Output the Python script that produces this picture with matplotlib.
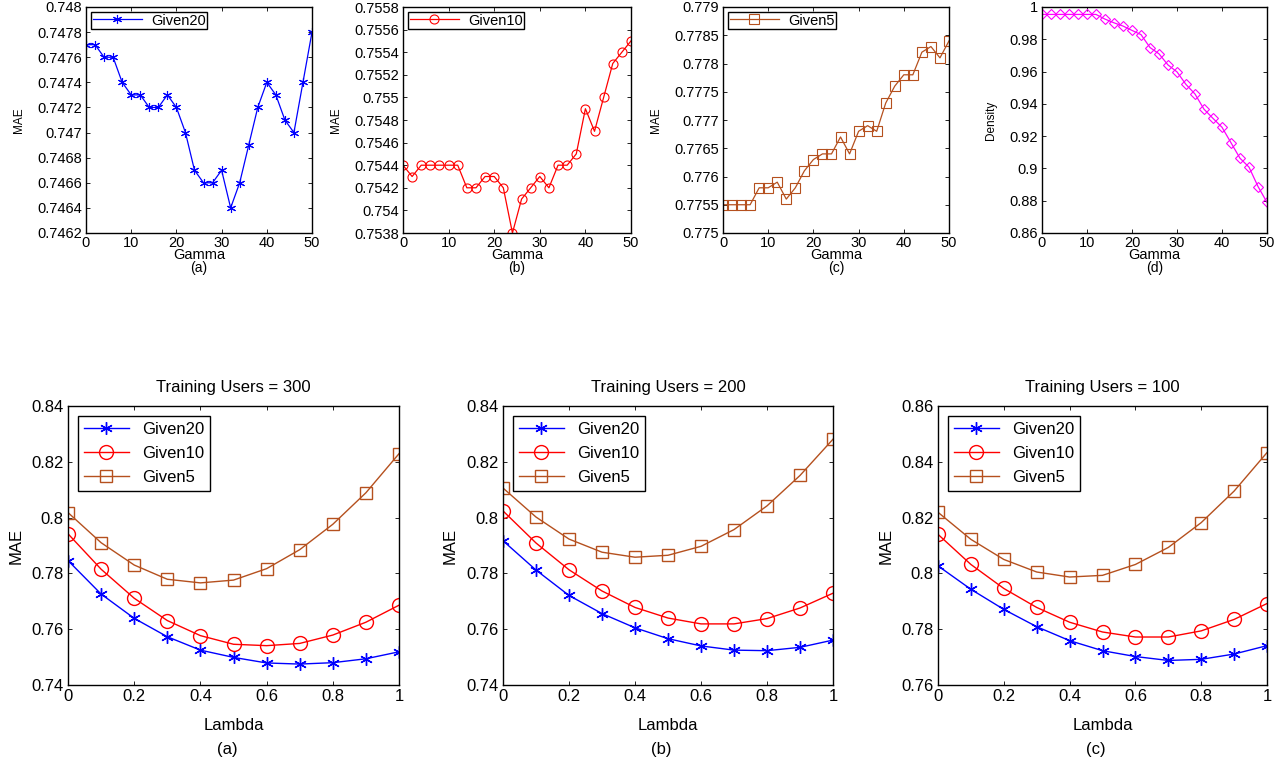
import numpy as np
import matplotlib
matplotlib.use("Agg")
import matplotlib.pyplot as plt

plt.rcParams['font.family'] = ['Liberation Sans', 'DejaVu Sans']

# top row: parameter Gamma
gamma = list(range(0, 51, 2))
given20_gamma = [0.7477, 0.7477, 0.7476, 0.7476, 0.7474, 0.7473, 0.7473, 0.7472, 0.7472,
                 0.7473, 0.7472, 0.7470, 0.7467, 0.7466, 0.7466, 0.7467, 0.7464, 0.7466,
                 0.7469, 0.7472, 0.7474, 0.7473, 0.7471, 0.7470, 0.7474, 0.7478]
given10_gamma = [0.7544, 0.7543, 0.7544, 0.7544, 0.7544, 0.7544, 0.7544, 0.7542, 0.7542,
                 0.7543, 0.7543, 0.7542, 0.7538, 0.7541, 0.7542, 0.7543, 0.7542, 0.7544,
                 0.7544, 0.7545, 0.7549, 0.7547, 0.7550, 0.7553, 0.7554, 0.7555]
given5_gamma = [0.7755, 0.7755, 0.7755, 0.7755, 0.7758, 0.7758, 0.7759, 0.7756, 0.7758,
                0.7761, 0.7763, 0.7764, 0.7764, 0.7767, 0.7764, 0.7768, 0.7769, 0.7768,
                0.7773, 0.7776, 0.7778, 0.7778, 0.7782, 0.7783, 0.7781, 0.7784]
density_gamma = [0.9954, 0.9954, 0.9954, 0.9954, 0.9954, 0.9954, 0.9954, 0.9925, 0.9902,
                 0.9882, 0.9855, 0.9829, 0.9749, 0.9710, 0.9641, 0.9598, 0.9520, 0.9461,
                 0.9367, 0.9310, 0.9255, 0.9159, 0.9063, 0.9008, 0.8888, 0.8790]

# bottom row: parameter Lambda
lam = [0, 0.1, 0.2, 0.3, 0.4, 0.5, 0.6, 0.7, 0.8, 0.9, 1.0]
users = [300, 200, 100]
g20_lam = [
    [0.7846, 0.7726, 0.7639, 0.7573, 0.7525, 0.7499, 0.7479, 0.7475, 0.7480, 0.7494, 0.7519],
    [0.7917, 0.7812, 0.7721, 0.7656, 0.7605, 0.7566, 0.7540, 0.7525, 0.7523, 0.7535, 0.7561],
    [0.8027, 0.7943, 0.7871, 0.7809, 0.7759, 0.7723, 0.7702, 0.7688, 0.7692, 0.7711, 0.7741],
]
g10_lam = [
    [0.7942, 0.7815, 0.7711, 0.7631, 0.7577, 0.7546, 0.7541, 0.7549, 0.7579, 0.7625, 0.7686],
    [0.8024, 0.7909, 0.7813, 0.7737, 0.7678, 0.7640, 0.7619, 0.7619, 0.7638, 0.7676, 0.7729],
    [0.8140, 0.8032, 0.7946, 0.7878, 0.7825, 0.7790, 0.7772, 0.7772, 0.7794, 0.7835, 0.7892],
]
g5_lam = [
    [0.8018, 0.7910, 0.7830, 0.7779, 0.7766, 0.7776, 0.7817, 0.7885, 0.7976, 0.8089, 0.8229],
    [0.8106, 0.8002, 0.7923, 0.7876, 0.7858, 0.7865, 0.7897, 0.7957, 0.8042, 0.8151, 0.8281],
    [0.8219, 0.8122, 0.8050, 0.8005, 0.7987, 0.7993, 0.8032, 0.8093, 0.8182, 0.8295, 0.8433],
]
panel_tags = ['(a)', '(b)', '(c)', '(d)']

BLUE = '#0000ff'
RED = '#ff0000'
BROWN = '#b5501e'
MAGENTA = '#ff00ff'
ASTER = (6, 2, 0)

W, H = 1284, 761
fig = plt.figure(figsize=(W / 100, H / 100), dpi=100)


def box(l, r, t, b):
    return [l / W, 1 - b / H, (r - l) / W, (b - t) / H]


def style(ax, size):
    ax.tick_params(direction='in', top=True, right=True, labelsize=size,
                   length=3, width=0.6, pad=3)
    for s in ax.spines.values():
        s.set_linewidth(1.0)


# ---- top row ----
top_boxes = [(86, 312), (403, 631), (723, 949), (1042, 1267)]
top_series = [
    (given20_gamma, 'Given20', BLUE, ASTER, (0.7462, 0.748), 0.0002, 'MAE'),
    (given10_gamma, 'Given10', RED, 'o', (0.7538, 0.7558), 0.0002, 'MAE'),
    (given5_gamma, 'Given5', BROWN, 's', (0.775, 0.779), 0.0005, 'MAE'),
    (density_gamma, None, MAGENTA, 'D', (0.86, 1.0), 0.02, 'Density'),
]
for i, ((l, r), (vals, name, col, mk, ylim, step, ylab)) in enumerate(zip(top_boxes, top_series)):
    ax = fig.add_axes(box(l, r, 7, 233))
    ax.plot(gamma, vals, color=col, marker=mk, markersize=6.5 if mk != 'D' else 5.5,
            markerfacecolor='none', markeredgecolor=col, linewidth=0.9,
            markeredgewidth=0.8, label=name)
    ax.set_xlim(0, 50)
    ax.set_ylim(*ylim)
    ax.set_xticks(range(0, 51, 10))
    yt = np.round(np.arange(ylim[0], ylim[1] + step / 2, step), 5)
    ax.set_yticks(yt)
    ax.set_yticklabels(['%g' % v for v in yt])
    style(ax, 10.5)
    ax.tick_params(axis='x', pad=2)
    ax.set_xlabel('Gamma', fontsize=10.5, labelpad=-1)
    ax.text(0.5, -0.125, panel_tags[i], transform=ax.transAxes, ha='center',
            va='top', fontsize=10)
    ax.set_ylabel(ylab, fontsize=8.5, fontstretch='condensed', labelpad=9)
    if name:
        ax.legend(loc='upper left', fontsize=10.5, frameon=True, fancybox=False,
                  edgecolor='black', borderpad=0.1, handlelength=3.4,
                  handletextpad=0.6, borderaxespad=0.35, framealpha=1)

# ---- bottom row ----
bot_boxes = [(68, 399), (503, 833), (938, 1267)]
bot_ylims = [(0.74, 0.84), (0.74, 0.84), (0.76, 0.86)]
for i, (l, r) in enumerate(bot_boxes):
    ax = fig.add_axes(box(l, r, 406, 685))
    ax.plot(lam, g20_lam[i], color=BLUE, marker=ASTER, markersize=9,
            linewidth=1.0, markeredgewidth=1.0, label='Given20')
    ax.plot(lam, g10_lam[i], color=RED, marker='o', markersize=10,
            markerfacecolor='none', linewidth=1.0, markeredgewidth=1.0, label='Given10')
    ax.plot(lam, g5_lam[i], color=BROWN, marker='s', markersize=8,
            markerfacecolor='none', linewidth=1.0, markeredgewidth=1.0, label='Given5')
    ax.set_xlim(0, 1)
    ax.set_ylim(*bot_ylims[i])
    ax.set_xticks(np.arange(0, 1.01, 0.2))
    ax.set_xticklabels(['0', '0.2', '0.4', '0.6', '0.8', '1'])
    yt = np.round(np.arange(bot_ylims[i][0], bot_ylims[i][1] + 0.001, 0.02), 3)
    ax.set_yticks(yt)
    ax.set_yticklabels(['%g' % v for v in yt])
    style(ax, 12)
    ax.set_title('Training Users = %d' % users[i], fontsize=12, pad=10)
    ax.set_xlabel('Lambda', fontsize=12, labelpad=10)
    ax.text(0.48, -0.205, panel_tags[i], transform=ax.transAxes, ha='center',
            va='top', fontsize=12)
    ax.set_ylabel('MAE', fontsize=12, labelpad=6)
    ax.legend(loc='upper left', fontsize=12, frameon=True, fancybox=False,
              edgecolor='black', borderpad=0.35, handlelength=2.7,
              labelspacing=0.55, borderaxespad=0.6, framealpha=1)

fig.savefig('out.png', dpi=100)
